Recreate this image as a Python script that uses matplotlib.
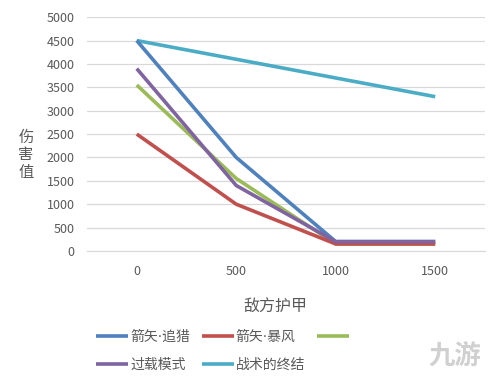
import matplotlib
matplotlib.use("Agg")
import matplotlib.pyplot as plt

plt.rcParams['font.family'] = ['Noto Sans CJK SC', 'DejaVu Sans']

categories = ["0", "500", "1000", "1500"]
series_names = ["箭矢·追猎", "箭矢·暴风", "", "过载模式", "战术的终结"]
s_zhuilie = [4500, 2000, 200, 200]
s_baofeng = [2500, 1000, 150, 150]
s_green = [3550, 1550, 150, 150]
s_guozai = [3900, 1400, 200, 200]
s_zhanshu = [4500, 4100, 3700, 3300]
colors = ["#4F81BD", "#C0504D", "#9BBB59", "#8064A2", "#4BACC6"]
yticks = [0, 500, 1000, 1500, 2000, 2500, 3000, 3500, 4000, 4500, 5000]

series = [s_zhuilie, s_baofeng, s_green, s_guozai, s_zhanshu]

fig = plt.figure(figsize=(5.0, 3.82), dpi=100)
ax = fig.add_axes([0.174, 0.343, 0.796, 0.612])
x = list(range(len(categories)))
draw_order = [4, 0, 2, 1, 3]
handles = {}
for i in [0, 1, 2, 3, 4]:
    (ln,) = ax.plot(x, series[i], color=colors[i], lw=2.6, solid_capstyle='butt',
                    solid_joinstyle='round', zorder=3 + draw_order.index(i))
    handles[i] = ln

ax.set_xlim(-0.5, 3.5)
ax.set_ylim(0, 5000)
ax.set_yticks(yticks)
ax.set_xticks(x)
ax.set_xticklabels(categories)
ax.grid(axis='y', color='#D9D9D9', lw=0.9)
ax.set_axisbelow(True)
for s in ['top', 'right', 'left']:
    ax.spines[s].set_visible(False)
ax.spines['bottom'].set_color('#D9D9D9')
ax.tick_params(length=0, labelsize=9, colors='#595959')
ax.tick_params(axis='x', pad=10)
ax.tick_params(axis='y', pad=9)

fig.text(0.052, 0.595, "伤\n害\n值", ha='center', va='center', fontsize=11,
         color='#595959', linespacing=1.05)
fig.text(0.55, 0.196, "敌方护甲", ha='center', va='center', fontsize=11.5, color='#595959')

order = [0, 3, 1, 4, 2]
leg = fig.legend([handles[i] for i in order], [series_names[i] for i in order],
                 loc='upper left', bbox_to_anchor=(0.181, 0.152), ncol=3, frameon=False,
                 prop={'family': ['DejaVu Sans', 'Noto Sans CJK SC'], 'size': 10},
                 handlelength=2.3, handletextpad=0.15, columnspacing=0.85,
                 labelspacing=1.0, borderaxespad=0, labelcolor='#595959')

# watermark
fig.text(0.91, 0.068, "九游", ha='center', va='center', fontsize=19, color='#D0D0D0',
         style='italic', fontweight='bold')

fig.savefig("out.png", dpi=100)
